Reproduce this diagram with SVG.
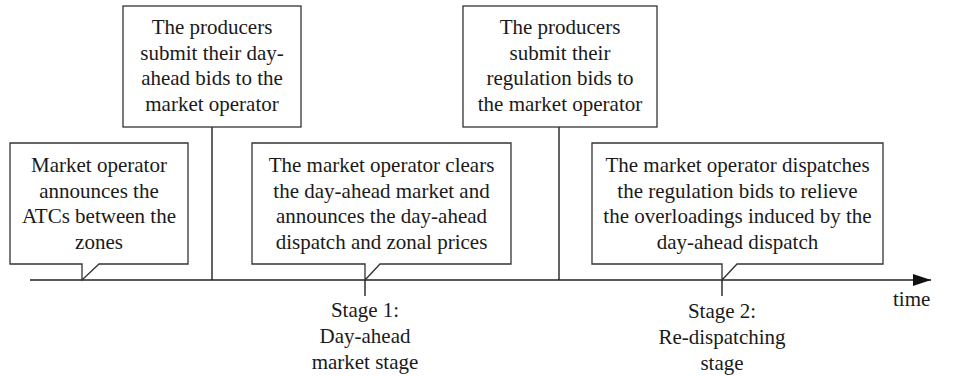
<svg xmlns="http://www.w3.org/2000/svg" width="957" height="376" viewBox="0 0 957 376">
<defs>
<style>
.box{fill:#fff;stroke:#333;stroke-width:1.3}
.ln{fill:none;stroke:#222;stroke-width:1.4}
text{font-family:"Liberation Serif","Times New Roman",serif;font-size:21px;fill:#1a1a1a;text-anchor:middle}
</style>
<marker id="arr" viewBox="0 0 18 12" refX="18" refY="6" markerWidth="18" markerHeight="12" markerUnits="userSpaceOnUse" orient="auto">
<path d="M0,0 L18,6 L0,12 Z" fill="#111"/>
</marker>
</defs>
<rect width="957" height="376" fill="#fff"/>
<g id="connectors">
<line class="ln" x1="30" y1="280" x2="931" y2="280" marker-end="url(#arr)"/>
<line class="ln" x1="212" y1="127" x2="212" y2="280"/>
<line class="ln" x1="559" y1="127" x2="559" y2="280"/>
<line class="ln" x1="365" y1="280" x2="365" y2="296"/>
<line class="ln" x1="722" y1="280" x2="722" y2="296"/>
</g>
<g id="node-atc">
<path class="box" d="M10,143 H188 V264 H99 L82,280 V264 H10 Z"/>
<text x="99" y="172">Market operator</text>
<text x="99" y="197.5">announces the</text>
<text x="99" y="223">ATCs between the</text>
<text x="99" y="248.5">zones</text>
</g>
<g id="node-dayahead-bids">
<rect class="box" x="123" y="6" width="178" height="121"/>
<text x="212" y="34">The producers</text>
<text x="212" y="59.5">submit their day-</text>
<text x="212" y="85">ahead bids to the</text>
<text x="212" y="110.5">market operator</text>
</g>
<g id="node-clear">
<path class="box" d="M252,143 H511 V264 H380 L365,280 V264 H252 Z"/>
<text x="381.5" y="172">The market operator clears</text>
<text x="381.5" y="197.5">the day-ahead market and</text>
<text x="381.5" y="223">announces the day-ahead</text>
<text x="381.5" y="248.5">dispatch and zonal prices</text>
</g>
<g id="node-regulation-bids">
<rect class="box" x="463" y="6" width="194" height="121"/>
<text x="560" y="34">The producers</text>
<text x="560" y="59.5">submit their</text>
<text x="560" y="85">regulation bids to</text>
<text x="560" y="110.5">the market operator</text>
</g>
<g id="node-dispatch">
<path class="box" d="M592,143 H883 V264 H737 L722,280 V264 H592 Z"/>
<text x="737.5" y="172">The market operator dispatches</text>
<text x="737.5" y="197.5">the regulation bids to relieve</text>
<text x="737.5" y="223">the overloadings induced by the</text>
<text x="737.5" y="248.5">day-ahead dispatch</text>
</g>
<g id="stage1">
<text x="365" y="317">Stage 1:</text>
<text x="365" y="343">Day-ahead</text>
<text x="365" y="369">market stage</text>
</g>
<g id="stage2">
<text x="722" y="318">Stage 2:</text>
<text x="722" y="344">Re-dispatching</text>
<text x="722" y="370">stage</text>
</g>
<text x="893" y="306" style="text-anchor:start">time</text>
</svg>
